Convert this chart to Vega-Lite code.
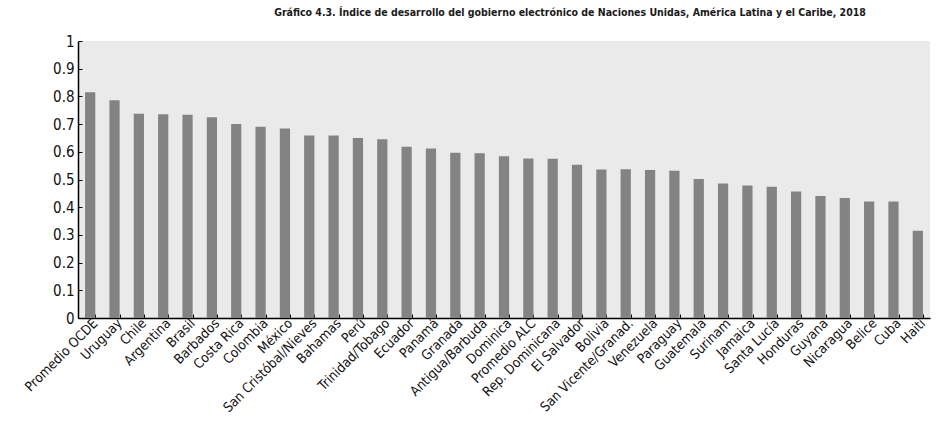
{
  "$schema": "https://vega.github.io/schema/vega-lite/v6.json",
  "autosize": {"type": "none"},
  "padding": {"left": 78, "top": 41, "right": 7, "bottom": 110},
  "width": 852,
  "height": 277,
  "background": "white",
  "title": {
    "text": "Gráfico 4.3. Índice de desarrollo del gobierno electrónico de Naciones Unidas, América Latina y el Caribe, 2018",
    "font": "DejaVu Sans Condensed, sans-serif",
    "fontSize": 10.5,
    "fontWeight": "bold",
    "color": "#1a1a1a",
    "anchor": "middle",
    "dx": 66,
    "offset": 16
  },
  "data": {
    "values": [
      {"pais": "Promedio OCDE", "valor": 0.815},
      {"pais": "Uruguay", "valor": 0.786},
      {"pais": "Chile", "valor": 0.737},
      {"pais": "Argentina", "valor": 0.736},
      {"pais": "Brasil", "valor": 0.734},
      {"pais": "Barbados", "valor": 0.725},
      {"pais": "Costa Rica", "valor": 0.700},
      {"pais": "Colombia", "valor": 0.690},
      {"pais": "México", "valor": 0.684},
      {"pais": "San Cristóbal/Nieves", "valor": 0.659},
      {"pais": "Bahamas", "valor": 0.659},
      {"pais": "Perú", "valor": 0.650},
      {"pais": "Trinidad/Tobago", "valor": 0.645},
      {"pais": "Ecuador", "valor": 0.618},
      {"pais": "Panamá", "valor": 0.612},
      {"pais": "Granada", "valor": 0.597},
      {"pais": "Antigua/Barbuda", "valor": 0.595},
      {"pais": "Dominica", "valor": 0.584},
      {"pais": "Promedio ALC", "valor": 0.576},
      {"pais": "Rep. Dominicana", "valor": 0.575},
      {"pais": "El Salvador", "valor": 0.553},
      {"pais": "Bolivia", "valor": 0.536},
      {"pais": "San Vicente/Granad.", "valor": 0.537},
      {"pais": "Venezuela", "valor": 0.534},
      {"pais": "Paraguay", "valor": 0.532},
      {"pais": "Guatemala", "valor": 0.502},
      {"pais": "Surinam", "valor": 0.486},
      {"pais": "Jamaica", "valor": 0.478},
      {"pais": "Santa Lucía", "valor": 0.474},
      {"pais": "Honduras", "valor": 0.457},
      {"pais": "Guyana", "valor": 0.440},
      {"pais": "Nicaragua", "valor": 0.433},
      {"pais": "Belice", "valor": 0.421},
      {"pais": "Cuba", "valor": 0.421},
      {"pais": "Haití", "valor": 0.315}
    ]
  },
  "mark": {"type": "bar", "color": "#838383"},
  "encoding": {
    "x": {
      "field": "pais",
      "type": "nominal",
      "sort": null,
      "title": null,
      "scale": {"paddingInner": 0.58, "paddingOuter": 0.29},
      "axis": {
        "labelAngle": -45,
        "labelAlign": "right",
        "labelBaseline": "top",
        "labelFont": "DejaVu Sans Condensed, sans-serif",
        "labelFontSize": 13.5,
        "labelColor": "#111",
        "labelPadding": 2,
        "domainColor": "#000",
        "domainWidth": 1.5,
        "tickBand": "extent",
        "tickSize": -4,
        "tickColor": "#000"
      }
    },
    "y": {
      "field": "valor",
      "type": "quantitative",
      "title": null,
      "scale": {"domain": [0, 1], "nice": false},
      "axis": {
        "values": [0, 0.1, 0.2, 0.3, 0.4, 0.5, 0.6, 0.7, 0.8, 0.9, 1],
        "format": ".1~f",
        "grid": false,
        "labelFont": "DejaVu Sans Condensed, sans-serif",
        "labelFontSize": 15,
        "labelColor": "#111",
        "labelPadding": 8,
        "domainColor": "#000",
        "domainWidth": 1.5,
        "tickSize": -4,
        "tickColor": "#000"
      }
    }
  },
  "config": {
    "view": {"fill": "#eaeaea", "stroke": null}
  }
}
